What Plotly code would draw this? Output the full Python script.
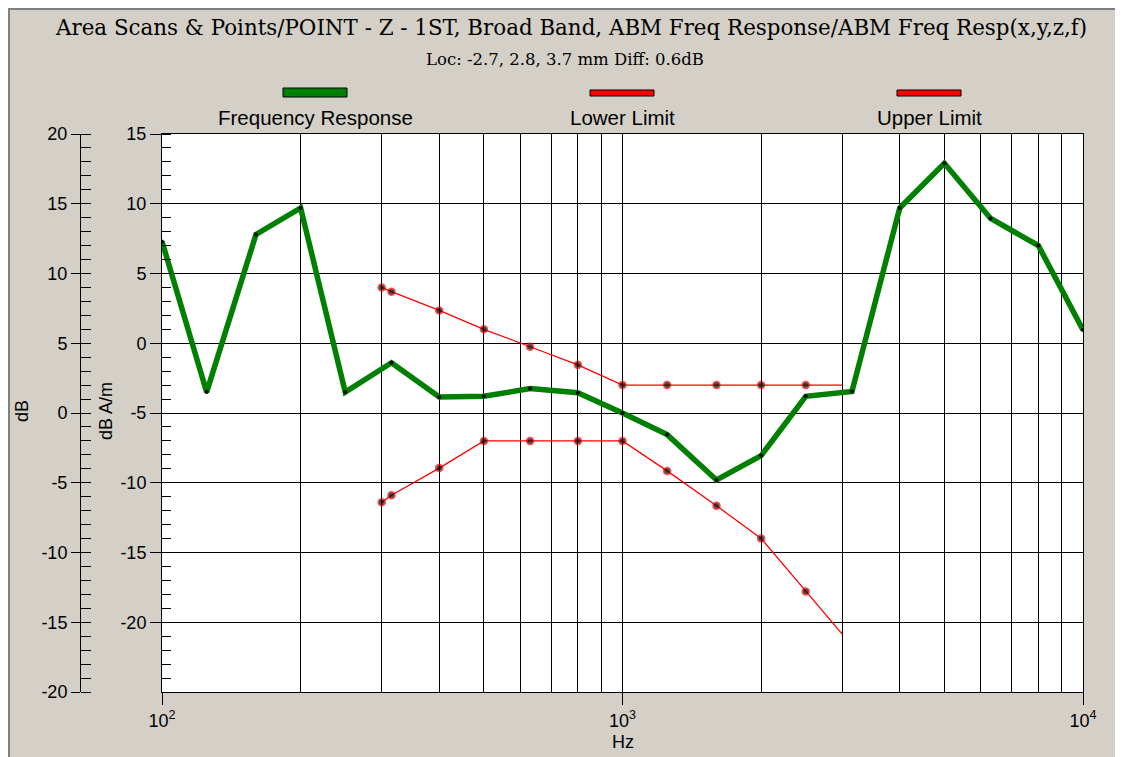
import plotly.graph_objects as go

# ---------------- data ----------------
freq_hz = [100, 125, 160, 200, 250, 315, 400, 500, 630, 800, 1000, 1250,
           1600, 2000, 2500, 3150, 4000, 5000, 6300, 8000, 10000]
freq_response = [7.3, -3.5, 7.8, 9.7, -3.5, -1.4, -3.85, -3.8, -3.25, -3.55, -5.0,
                 -6.55, -9.8, -8.05, -3.8, -3.45, 9.7, 12.9, 8.95, 7.0, 0.95]

limit_hz = [300, 315, 400, 500, 630, 800, 1000, 1250, 1600, 2000, 2500, 3000]
upper_limit = [4.0, 3.7, 2.35, 1.0, -0.25, -1.55, -3.0, -3.0, -3.0, -3.0, -3.0, -3.0]
lower_limit = [-11.4, -10.9, -8.95, -7.0, -7.0, -7.0, -7.0, -9.15, -11.65, -14.0,
               -17.8, -20.85]
limit_marker = [7] * 11 + [0]

x_ticks = [100, 1000, 10000]
x_ticktext = ["10<sup>2</sup>", "10<sup>3</sup>", "10<sup>4</sup>"]
x_grid = [m * d for d in (100, 1000) for m in range(2, 10)]
y_ticks = [-20, -15, -10, -5, 0, 5, 10, 15]
y_ticktext = ["-20", "-15", "-10", "-5", "0", "5", "10", "15"]
y2_ticks = [-20, -15, -10, -5, 0, 5, 10, 15, 20]
y2_ticktext = ["-20", "-15", "-10", "-5", "0", "5", "10", "15", "20"]

title_text = "Area Scans &amp; Points/POINT - Z - 1ST, Broad Band, ABM Freq Response/ABM Freq Resp(x,y,z,f)"
subtitle_text = "Loc: -2.7, 2.8, 3.7 mm Diff: 0.6dB"
legend_names = ["Frequency Response", "Lower Limit", "Upper Limit"]
legend_colors = ["#008000", "#ff0000", "#ff0000"]

# ---------------- layout geometry (screen pixels) ----------------
W, H = 1123, 757
OFF = 8                      # page body margin
SX_L, SX_R = 80, 1083        # screen x of paper left / right
SY_T, SY_B = 134, 692        # screen y of plot top / bottom
PW, PH = SX_R - SX_L, SY_B - SY_T
ML = SX_L - OFF
MT = SY_T - OFF
MR = W - ML - PW
MB = H - MT - PH


def px(x):
    return (x - SX_L) / PW


def py(y):
    return (SY_B - y) / PH


BG = "#d4d0c8"
sans = "Liberation Sans, Arial, sans-serif"
serif = "DejaVu Serif, serif"

fig = go.Figure()

fig.add_trace(go.Scatter(
    x=limit_hz, y=upper_limit, mode="lines+markers", name=legend_names[2],
    line=dict(color="#ff0000", width=1.3),
    marker=dict(color="black", size=limit_marker, line=dict(color="#ff0000", width=1.5)),
    showlegend=False))
fig.add_trace(go.Scatter(
    x=limit_hz, y=lower_limit, mode="lines+markers", name=legend_names[1],
    line=dict(color="#ff0000", width=1.3),
    marker=dict(color="black", size=limit_marker, line=dict(color="#ff0000", width=1.5)),
    showlegend=False))
fig.add_trace(go.Scatter(
    x=freq_hz, y=freq_response, mode="lines+markers", name=legend_names[0],
    line=dict(color="#008000", width=5.5),
    marker=dict(color="black", size=4),
    showlegend=False))

# invisible trace to activate the outer dB axis
fig.add_trace(go.Scatter(x=[100], y=[0], yaxis="y2", mode="markers",
                         marker=dict(opacity=0), showlegend=False, hoverinfo="skip"))

fig.update_layout(
    width=W, height=H,
    margin=dict(l=ML, r=MR, t=MT, b=MB),
    paper_bgcolor=BG, plot_bgcolor="white",
    showlegend=False,
    xaxis=dict(
        type="log", range=[2, 4], domain=[px(162), 1],
        tickvals=x_ticks, ticktext=x_ticktext,
        ticks="outside", ticklen=12, tickcolor="black", tickwidth=1,
        showgrid=True, gridcolor="black", gridwidth=1,
        minor=dict(tickvals=x_grid, showgrid=True, gridcolor="black", gridwidth=1, ticks=""),
        showline=True, linecolor="black", linewidth=1, mirror=True,
        tickfont=dict(family=sans, size=18, color="black"),
        zeroline=False,
    ),
    yaxis=dict(
        range=[-25, 15], tickvals=y_ticks, ticktext=y_ticktext,
        ticks="outside", ticklen=11, tickcolor="black", tickwidth=1,
        minor=dict(dtick=1, ticks="inside", ticklen=9, tickcolor="black", showgrid=False),
        showgrid=True, gridcolor="black", gridwidth=1,
        showline=True, linecolor="black", linewidth=1, mirror=True,
        tickfont=dict(family=sans, size=18, color="black"),
        zeroline=False,
    ),
    yaxis2=dict(
        range=[-20, 20], tickvals=y2_ticks, ticktext=y2_ticktext,
        overlaying="y", anchor="free", position=0, side="left",
        ticks="outside", ticklen=9, tickcolor="black", tickwidth=1,
        minor=dict(dtick=1, ticks="inside", ticklen=10, tickcolor="black", showgrid=False),
        showgrid=False, showline=True, linecolor="black", linewidth=1,
        tickfont=dict(family=sans, size=18, color="black"),
        zeroline=False,
    ),
)

# window frame (dark edge at top / left)
shapes = [
    dict(type="rect", xref="paper", yref="paper", x0=px(OFF), x1=px(W + 20),
         y0=py(OFF + 2), y1=py(OFF),
         fillcolor="#808080", line=dict(width=0), layer="below"),
    dict(type="rect", xref="paper", yref="paper", x0=px(OFF), x1=px(OFF + 2),
         y0=py(H + 20), y1=py(OFF),
         fillcolor="#808080", line=dict(width=0), layer="below"),
]

# legend swatches
legend_cx = [315, 622, 929]
for i, (name, col) in enumerate(zip(legend_names, legend_colors)):
    cx = legend_cx[i]
    y0, y1 = (88, 97) if i == 0 else (90, 96)
    shapes.append(dict(type="rect", xref="paper", yref="paper",
                       x0=px(cx - 32), x1=px(cx + 32), y0=py(y1), y1=py(y0),
                       fillcolor=col, line=dict(color="black", width=1)))
    fig.add_annotation(x=px(cx), y=py(118), xref="paper", yref="paper", text=name,
                       showarrow=False, xanchor="center", yanchor="middle",
                       font=dict(family=sans, size=20.5, color="black"))

fig.update_layout(shapes=shapes)

fig.add_annotation(x=px(571), y=py(27), xref="paper", yref="paper", text=title_text,
                   showarrow=False, xanchor="center", yanchor="middle",
                   font=dict(family=serif, size=21.4, color="black"))
fig.add_annotation(x=px(565), y=py(60), xref="paper", yref="paper", text=subtitle_text,
                   showarrow=False, xanchor="center", yanchor="middle",
                   font=dict(family=serif, size=16.5, color="black"))
fig.add_annotation(x=px(623), y=py(742), xref="paper", yref="paper", text="Hz",
                   showarrow=False, xanchor="center", yanchor="middle",
                   font=dict(family=sans, size=18, color="black"))
fig.add_annotation(x=px(106), y=py(411), xref="paper", yref="paper", text="dB A/m",
                   showarrow=False, textangle=-90, xanchor="center", yanchor="middle",
                   font=dict(family=sans, size=18, color="black"))
fig.add_annotation(x=px(22), y=py(411), xref="paper", yref="paper", text="dB",
                   showarrow=False, textangle=-90, xanchor="center", yanchor="middle",
                   font=dict(family=sans, size=18, color="black"))

fig.write_html("out.html")
